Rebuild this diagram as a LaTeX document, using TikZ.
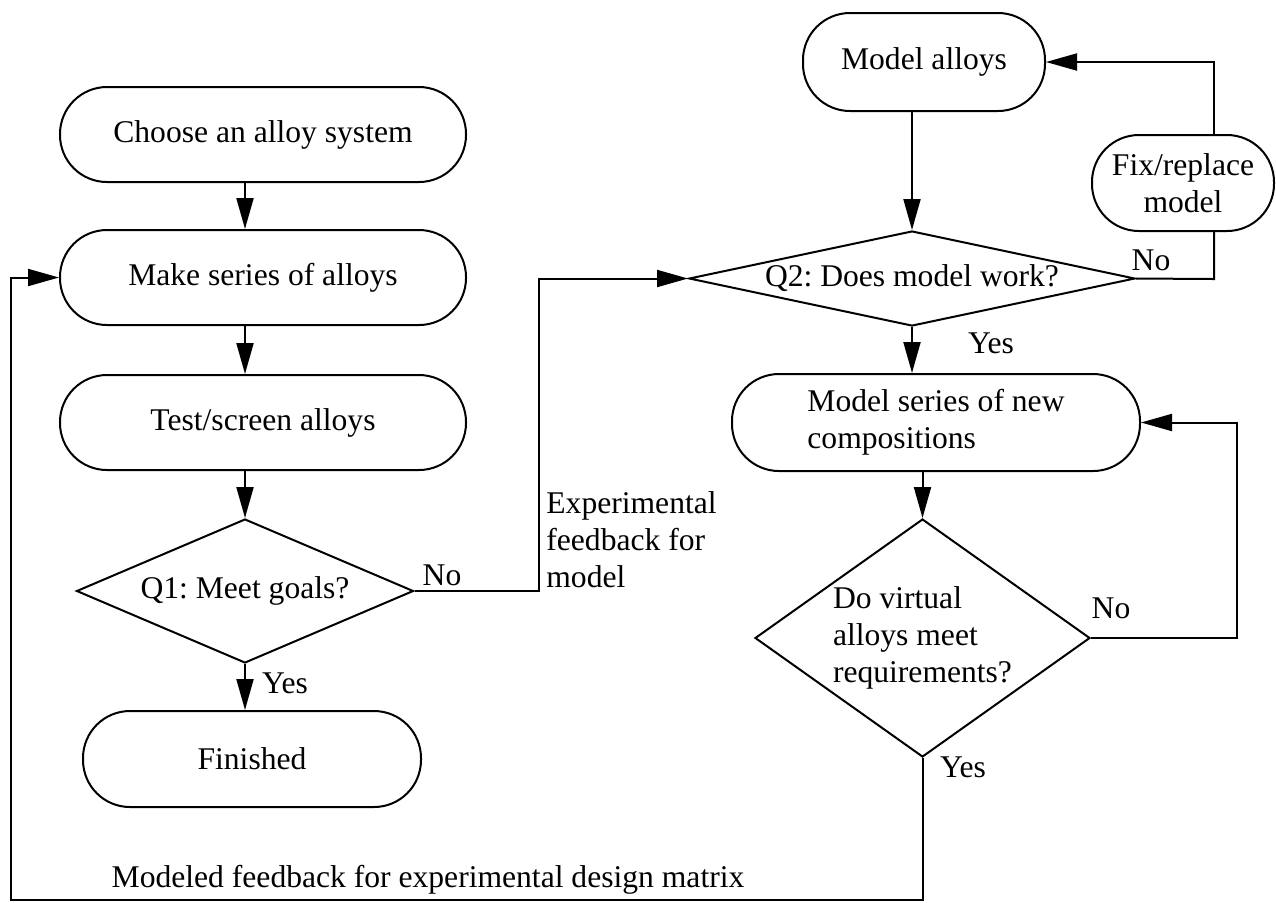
\documentclass[tikz,border=0pt]{standalone}
\usepackage{fontspec}
\setmainfont{Liberation Serif}
\usetikzlibrary{shapes.geometric,arrows.meta}
\frenchspacing

\newcommand{\fsz}{\fontsize{15.8pt}{18.5pt}\selectfont}
\tikzset{
	box/.style={draw,line width=1pt,rectangle,rounded corners=23.5pt,inner sep=0pt,align=center,font=\fsz},
	decision/.style={draw,line width=1pt,diamond,inner sep=0pt,align=center,font=\fsz},
	arr/.style={line width=1pt,-{Triangle[length=15.5pt,width=8.5pt]}},
	ln/.style={line width=1pt},
	lbl/.style={inner sep=0pt,font=\fsz},
}

\begin{document}
\begin{tikzpicture}[x=0.5pt,y=-0.5pt]
			\useasboundingbox (0,0) rectangle (1276,902);
			\node[box,minimum width=203pt,minimum height=47.5pt] (choose) at (263,134.5) {Choose an alloy system};
			\node[box,minimum width=203pt,minimum height=47.5pt] (make) at (263,277.5) {Make series of alloys};
			\node[box,minimum width=203pt,minimum height=47.5pt] (test) at (263,422.5) {Test/screen alloys};
			\node[decision,aspect=2.34,minimum width=168.5pt,minimum height=72pt] (q1) at (245,591) {Q1: Meet goals?};
			\node[box,minimum width=169pt,minimum height=48pt] (fin) at (252,759) {Finished};
			\node[box,minimum width=121pt,minimum height=49pt] (malloy) at (924,62) {Model alloys};
			\node[decision,aspect=4.7,minimum width=223pt,minimum height=47.5pt] (q2) at (912,278.5) {Q2: Does model work?};
			\node[box,minimum width=91pt,minimum height=48pt] (fix) at (1183,183) {Fix/replace\\model};
			\node[box,minimum width=204pt,minimum height=48.5pt,align=left] (mseries) at (936,422.5) {Model series of new\\compositions};
			\node[decision,aspect=1.41,minimum width=167.5pt,minimum height=119pt,align=left] (q3) at (922.5,638) {Do virtual\\alloys meet\\requirements?};
			\coordinate (expt) at (539,591);
			\coordinate (fixin) at (1214,279);
			\coordinate (retq3) at (1237,638);
			\coordinate (botl) at (11,900);
			\draw[arr] (choose.south -| q1.north) -- (make.north -| q1.north);
			\draw[arr] (make.south -| q1.north) -- (test.north -| q1.north);
			\draw[arr] (test.south -| q1.north) -- (q1.north);
			\draw[arr] (q1.south) -- (fin.north -| q1.south);
			\draw[arr] (malloy.south -| q2.north) -- (q2.north);
			\draw[arr] (q2.south) -- (mseries.north -| q2.south);
			\draw[arr] (mseries.south -| q3.north) -- (q3.north);
			\draw[arr] (q1.east) -- (expt) |- (q2.west);
			\draw[ln] (q2.east) -- (fixin) -- (fixin |- fix.south);
			\draw[arr] (fixin |- fix.north) |- (malloy.east);
			\draw[arr] (q3.east) -- (retq3) |- (mseries.east);
			\draw[arr] (q3.south) -- (q3.south |- botl) -- (botl) |- (make.west);
			\node[lbl] (q1no) at (442,575) {No};
			\node[lbl] (q1yes) at (285,683) {Yes};
			\node[lbl,anchor=west,align=left] (expfb) at (546,540) {Experimental\\feedback for\\model};
			\node[lbl] (q2no) at (1151,260) {No};
			\node[lbl] (q2yes) at (991,343) {Yes};
			\node[lbl] (q3no) at (1111,608) {No};
			\node[lbl] (q3yes) at (963,767) {Yes};
			\node[lbl] (modfb) at (428,880) {Modeled feedback for experimental design matrix};
\end{tikzpicture}
\end{document}
